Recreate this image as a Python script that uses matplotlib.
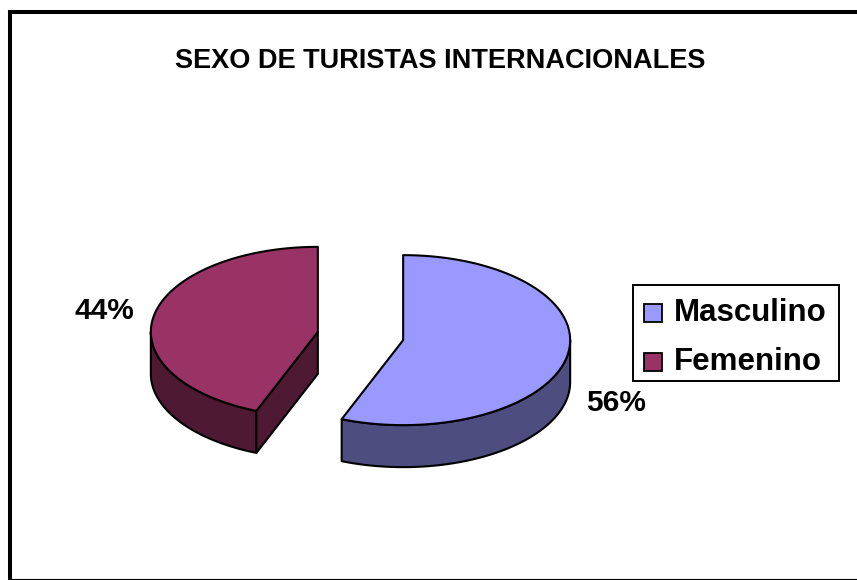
import numpy as np
import matplotlib.pyplot as plt
from matplotlib.patches import Polygon, Rectangle

# data
labels = ['Masculino', 'Femenino']
values = [56, 44]
top_colors = ['#9999FF', '#993366']
side_colors = ['#4D4D80', '#4D1933']
title = 'SEXO DE TURISTAS INTERNACIONALES'

# layout in pixels
W, H = 857, 580
cx, cy = 360.5, 336
rx, ry = 167, 85
depth = 42
explode = 0.26

plt.rcParams['font.family'] = ['Liberation Sans', 'DejaVu Sans']

fig = plt.figure(figsize=(W / 100, H / 100), dpi=100)
ax = fig.add_axes([0, 0, 1, 1])
ax.set_xlim(0, W)
ax.set_ylim(H, 0)
ax.axis('off')


def arc(x0, y0, a0, a1, dz=0, n=120):
    th = np.radians(np.linspace(a0, a1, n))
    return np.column_stack([x0 + rx * np.cos(th), y0 - ry * np.sin(th) + dz])


# slice angles: start at 12 o'clock, go clockwise (like Excel)
total = float(sum(values))
slices = []
cum = 0.0
for lab, v, ct, cs in zip(labels, values, top_colors, side_colors):
    hi = 90 - 360 * cum / total
    lo = hi - 360 * v / total
    cum += v
    b = np.radians((hi + lo) / 2)
    sx = cx + explode * rx * np.cos(b)
    sy = cy - explode * ry * np.sin(b)
    slices.append(dict(label=lab, value=v, hi=hi, lo=lo, b=b, x=sx, y=sy, ct=ct, cs=cs))

lw = 1.5
# back slices first
for s in sorted(slices, key=lambda d: d['y']):
    x0, y0 = s['x'], s['y']
    # outer wall, only the front half is visible
    for k in (-1, 0, 1):
        f0, f1 = -180 + 360 * k, 0 + 360 * k
        a0, a1 = max(s['lo'], f0), min(s['hi'], f1)
        if a1 > a0:
            topc = arc(x0, y0, a0, a1)
            botc = arc(x0, y0, a0, a1, dz=depth)[::-1]
            ax.add_patch(Polygon(np.vstack([topc, botc]), closed=True,
                                 facecolor=s['cs'], edgecolor='black', lw=lw, joinstyle='round'))
    # radial cut faces facing the viewer
    for ang, vis in ((s['hi'], np.cos(np.radians(s['hi'])) < -1e-6),
                     (s['lo'], np.cos(np.radians(s['lo'])) > 1e-6)):
        if vis:
            e = arc(x0, y0, ang, ang, n=1)[0]
            face = [(x0, y0), tuple(e), (e[0], e[1] + depth), (x0, y0 + depth)]
            ax.add_patch(Polygon(face, closed=True, facecolor=s['cs'],
                                 edgecolor='black', lw=lw, joinstyle='round'))
    # top face
    top = np.vstack([[x0, y0], arc(x0, y0, s['lo'], s['hi']), [x0, y0]])
    ax.add_patch(Polygon(top, closed=True, facecolor=s['ct'], edgecolor='black',
                         lw=lw, joinstyle='round'))
    # percentage label
    lx = x0 + 1.3 * rx * np.cos(s['b'])
    ly = y0 - 1.3 * ry * np.sin(s['b']) + (depth if np.sin(s['b']) < 0 else 0)
    ax.text(lx, ly, f"{s['value']}%", ha='center', va='center',
            fontsize=21.5, fontweight='bold')

# title
ax.text(440, 61, title, ha='center', va='center', fontsize=19.5, fontweight='bold')

# legend
ax.add_patch(Rectangle((633, 285), 206, 96, facecolor='white', edgecolor='black', lw=1.4))
for i, s in enumerate(slices):
    yy = 313 + 49 * i
    ax.add_patch(Rectangle((644, yy - 9), 18, 18, facecolor=s['ct'],
                           edgecolor='black', lw=1.3))
    ax.text(674, yy, s['label'], ha='left', va='center', fontsize=22.5, fontweight='bold')

# chart border (cut off on the right)
ax.plot([10, 10], [12, H], color='black', lw=2.9, solid_capstyle='projecting')
ax.plot([10, W], [12, 12], color='black', lw=2.9, solid_capstyle='projecting')
ax.plot([10, W], [579, 579], color='black', lw=0.8)

fig.savefig('out.png', dpi=100)
